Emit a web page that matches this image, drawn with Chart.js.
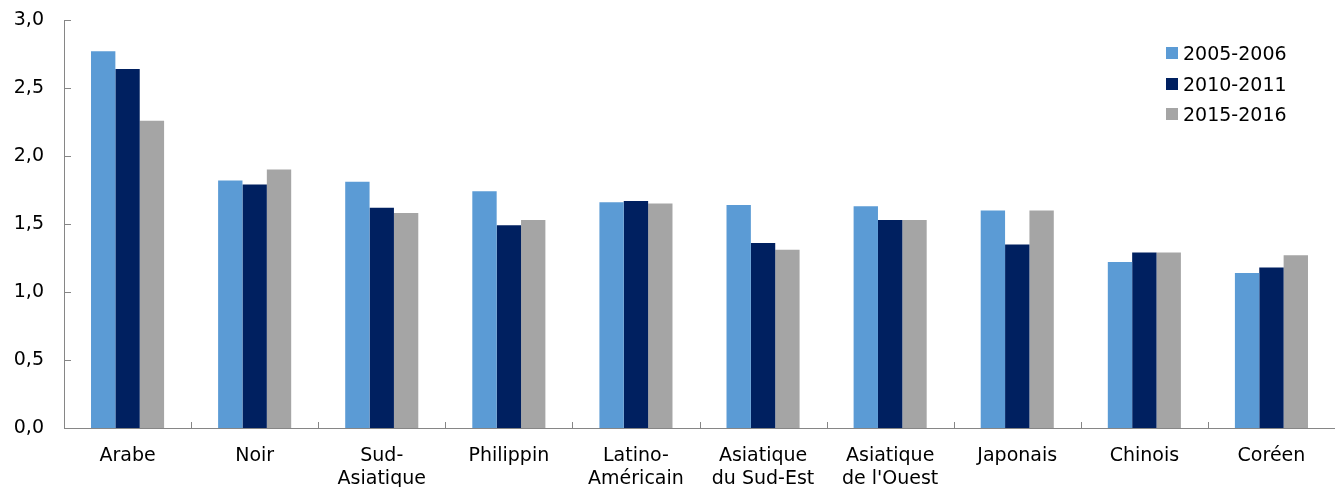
<!DOCTYPE html>
<html lang="fr">
<head>
<meta charset="utf-8">
<script src="https://cdn.jsdelivr.net/npm/chart.js@4.4.0/dist/chart.umd.min.js"></script>
<style>
  html, body { margin: 0; padding: 0; background: #fff; }
  #wrap { position: relative; width: 1335px; height: 487px; }
  #legend { position: absolute; left: 1166px; top: 38px; font-family: "DejaVu Sans", Verdana, sans-serif; font-size: 19px; color: #000; }
  #legend div { height: 30.5px; display: flex; align-items: center; }
  #legend span.box { display: inline-block; width: 12px; height: 12px; margin-right: 5px; }
</style>
</head>
<body>
<div id="wrap">
  <canvas id="c" width="1335" height="487"></canvas>
  <div id="legend"></div>
</div>
<script>
const categories = [
  "Arabe", ["Noir"], ["Sud-", "Asiatique"], "Philippin", ["Latino-", "Américain"],
  ["Asiatique", "du Sud-Est"], ["Asiatique", "de l'Ouest"], "Japonais", "Chinois", "Coréen"
];
const seriesLabels = ["2005-2006", "2010-2011", "2015-2016"];
const values2005 = [2.77, 1.82, 1.81, 1.74, 1.66, 1.64, 1.63, 1.60, 1.22, 1.14];
const values2010 = [2.64, 1.79, 1.62, 1.49, 1.67, 1.36, 1.53, 1.35, 1.29, 1.18];
const values2015 = [2.26, 1.90, 1.58, 1.53, 1.65, 1.31, 1.53, 1.60, 1.29, 1.27];
const yTicks = [0, 0.5, 1.0, 1.5, 2.0, 2.5, 3.0];

const colors = ["#5B9BD5", "#002060", "#A5A5A5"];
const FONT = '"DejaVu Sans", Verdana, sans-serif';

// Short tick marks drawn on the inner side of both axes
const innerTicks = {
  id: 'innerTicks',
  afterDraw(chart) {
    const { ctx, chartArea, scales } = chart;
    const xs = scales.x, ys = scales.y;
    ctx.save();
    ctx.strokeStyle = '#868686';
    ctx.lineWidth = 1;
    ctx.beginPath();
    yTicks.forEach(v => {
      const py = Math.round(ys.getPixelForValue(v)) + 0.5;
      ctx.moveTo(chartArea.left, py);
      ctx.lineTo(chartArea.left + 7, py);
    });
    const n = categories.length;
    const step = xs.getPixelForValue(1) - xs.getPixelForValue(0);
    for (let i = 0; i <= n; i++) {
      const px = Math.round(xs.getPixelForValue(i) - step / 2) + 0.5;
      ctx.moveTo(px, chartArea.bottom);
      ctx.lineTo(px, chartArea.bottom - 6);
    }
    ctx.stroke();
    ctx.restore();
  }
};

const chart = new Chart(document.getElementById('c'), {
  type: 'bar',
  data: {
    labels: categories,
    datasets: [values2005, values2010, values2015].map((d, i) => ({
      label: seriesLabels[i],
      data: d,
      backgroundColor: colors[i],
      borderWidth: 0,
      categoryPercentage: 0.575,
      barPercentage: 1.0
    }))
  },
  options: {
    responsive: false,
    animation: false,
    devicePixelRatio: 1,
    layout: { padding: { top: 20, right: 0, left: 0, bottom: 0 } },
    plugins: { legend: { display: false }, tooltip: { enabled: false } },
    scales: {
      x: {
        grid: { display: false, drawTicks: false },
        border: { display: true, color: '#868686', width: 1 },
        ticks: { color: '#000', font: { family: FONT, size: 19 }, padding: 17, maxRotation: 0, autoSkip: false },
        afterFit(s) { s.height = 59; s.paddingLeft = 0; s.paddingRight = 0; }
      },
      y: {
        min: 0, max: 3,
        afterBuildTicks(s) { s.ticks = yTicks.map(v => ({ value: v })); },
        grid: { display: false, drawTicks: false },
        border: { display: true, color: '#868686', width: 1 },
        ticks: {
          color: '#000', font: { family: FONT, size: 19 }, padding: 20,
          callback: v => v.toFixed(1).replace('.', ',')
        },
        afterFit(s) { s.width = 64; s.paddingTop = 0; s.paddingBottom = 0; }
      }
    }
  },
  plugins: [innerTicks]
});

const legend = document.getElementById('legend');
seriesLabels.forEach((lab, i) => {
  const row = document.createElement('div');
  const box = document.createElement('span');
  box.className = 'box';
  box.style.background = colors[i];
  row.appendChild(box);
  row.appendChild(document.createTextNode(lab));
  legend.appendChild(row);
});
</script>
</body>
</html>
